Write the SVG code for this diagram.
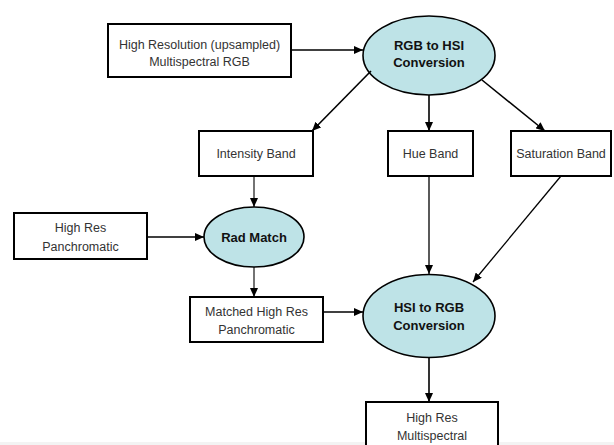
<svg xmlns="http://www.w3.org/2000/svg" width="614" height="445" viewBox="0 0 614 445">
<style>
.box{fill:#fff;stroke:#000;stroke-width:2}
.ell{fill:#BEE3E7;stroke:#000;stroke-width:1.6}
.t{font-family:"Liberation Sans",Arial,sans-serif;font-size:12.5px;fill:#333;text-anchor:middle}
.b{font-family:"Liberation Sans",Arial,sans-serif;font-size:13px;font-weight:bold;fill:#111;text-anchor:middle}
.c{stroke:#000;stroke-width:1.6;fill:none;marker-end:url(#ah)}
</style>
<defs>
<marker id="ah" markerUnits="userSpaceOnUse" markerWidth="10" markerHeight="8" refX="9" refY="4" orient="auto">
<path d="M0,0 L9,4 L0,8 z" fill="#000"/>
</marker>
</defs>
<rect x="0" y="0" width="614" height="445" fill="#fff"/>
<rect x="0" y="442" width="614" height="3" fill="#f3f3f3"/>
<g id="n-msrgb">
<rect class="box" x="108" y="24" width="183" height="53"/>
<text class="t" x="199.5" y="48.5">High Resolution (upsampled)</text>
<text class="t" x="199.5" y="65.5">Multispectral RGB</text>
</g>
<g id="n-rgb2hsi">
<ellipse class="ell" cx="429" cy="55.5" rx="66" ry="39.5"/>
<text class="b" x="429" y="50">RGB to HSI</text>
<text class="b" x="429" y="67">Conversion</text>
</g>
<g id="n-intensity">
<rect class="box" x="199" y="131" width="114" height="45"/>
<text class="t" x="256" y="158">Intensity Band</text>
</g>
<g id="n-hue">
<rect class="box" x="388" y="131" width="85" height="45"/>
<text class="t" x="430.5" y="158">Hue Band</text>
</g>
<g id="n-sat">
<rect class="box" x="511" y="131" width="100" height="45"/>
<text class="t" x="561" y="158">Saturation Band</text>
</g>
<g id="n-pan">
<rect class="box" x="14" y="213" width="133" height="46"/>
<text class="t" x="80.5" y="232">High Res</text>
<text class="t" x="80.5" y="251">Panchromatic</text>
</g>
<g id="n-radmatch">
<ellipse class="ell" cx="254" cy="237" rx="50" ry="30"/>
<text class="b" x="254" y="242">Rad Match</text>
</g>
<g id="n-matched">
<rect class="box" x="190" y="297" width="133" height="45"/>
<text class="t" x="256.5" y="316">Matched High Res</text>
<text class="t" x="256.5" y="334">Panchromatic</text>
</g>
<g id="n-hsi2rgb">
<ellipse class="ell" cx="429" cy="316" rx="66" ry="41.5"/>
<text class="b" x="429" y="312">HSI to RGB</text>
<text class="b" x="429" y="330">Conversion</text>
</g>
<g id="n-out">
<rect class="box" x="366" y="402" width="132" height="60"/>
<text class="t" x="432" y="422">High Res</text>
<text class="t" x="432" y="440">Multispectral</text>
</g>
<g id="connectors">
<line class="c" x1="291" y1="50" x2="363" y2="50"/>
<line class="c" x1="371" y1="71" x2="312" y2="131"/>
<line class="c" x1="429" y1="95" x2="429" y2="131"/>
<line class="c" x1="482" y1="80" x2="545" y2="131"/>
<line class="c" x1="254" y1="176" x2="254" y2="207" style="stroke-width:1.1"/>
<line class="c" x1="147" y1="237" x2="204" y2="237"/>
<line class="c" x1="254" y1="267" x2="254" y2="297" style="stroke-width:1.1"/>
<line class="c" x1="429" y1="176" x2="429" y2="274" style="stroke-width:1.3"/>
<line class="c" x1="561" y1="176" x2="473" y2="282" style="stroke-width:1.3"/>
<line class="c" x1="323" y1="312" x2="363" y2="312"/>
<line class="c" x1="429" y1="357.5" x2="429" y2="402"/>
</g>
</svg>
